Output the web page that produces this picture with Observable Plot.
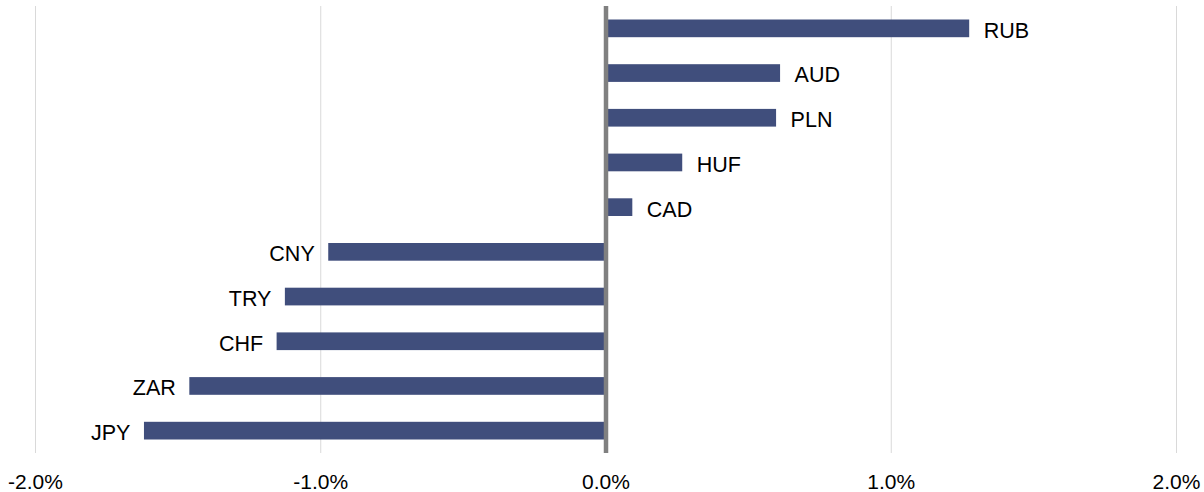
<!DOCTYPE html>
<html>
<head>
<meta charset="utf-8">
<script src="https://cdn.jsdelivr.net/npm/d3@7"></script>
<script src="https://cdn.jsdelivr.net/npm/@observablehq/plot@0.6"></script>
<style>
  html, body { margin: 0; padding: 0; background: #fff; }
  #chart svg { display: block; }
</style>
</head>
<body>
<div id="chart"></div>
<script>
const currencies = ["RUB", "AUD", "PLN", "HUF", "CAD", "CNY", "TRY", "CHF", "ZAR", "JPY"];
const changes = [1.275, 0.612, 0.598, 0.269, 0.094, -0.972, -1.124, -1.153, -1.459, -1.618];
const tickValues = [-2, -1, 0, 1, 2];
const gridValues = [-2, -1, 1, 2];

const data = currencies.map((c, i) => ({currency: c, value: changes[i]}));
const font = "Arial, 'Liberation Sans', sans-serif";

const chart = Plot.plot({
  width: 1204,
  height: 492,
  marginTop: 6,
  marginBottom: 39,
  marginLeft: 35,
  marginRight: 28,
  style: {fontFamily: font, fontSize: "21px", color: "#000", background: "#fff"},
  x: {domain: [-2, 2], label: null},
  y: {domain: currencies, paddingInner: 0.604, paddingOuter: 0.302, round: false, axis: null, label: null},
  marks: [
    Plot.ruleX(gridValues, {stroke: "#d9d9d9", strokeWidth: 1}),
    Plot.barX(data, {y: "currency", x1: 0, x2: "value", fill: "#404e7c"}),
    Plot.ruleX([0], {stroke: "#808080", strokeWidth: 4.5}),
    Plot.text(data.filter(d => d.value >= 0), {
      y: "currency", x: "value", text: "currency",
      textAnchor: "start", dx: 14, dy: 2, fill: "#000", fontSize: 21.5
    }),
    Plot.text(data.filter(d => d.value < 0), {
      y: "currency", x: "value", text: "currency",
      textAnchor: "end", dx: -14, dy: 2, fill: "#000", fontSize: 21.5
    }),
    Plot.axisX({
      ticks: tickValues, tickSize: 0, tickPadding: 21,
      tickFormat: d => d.toFixed(1) + "%", fontSize: 21, label: null
    })
  ]
});
document.getElementById("chart").appendChild(chart);
</script>
</body>
</html>
